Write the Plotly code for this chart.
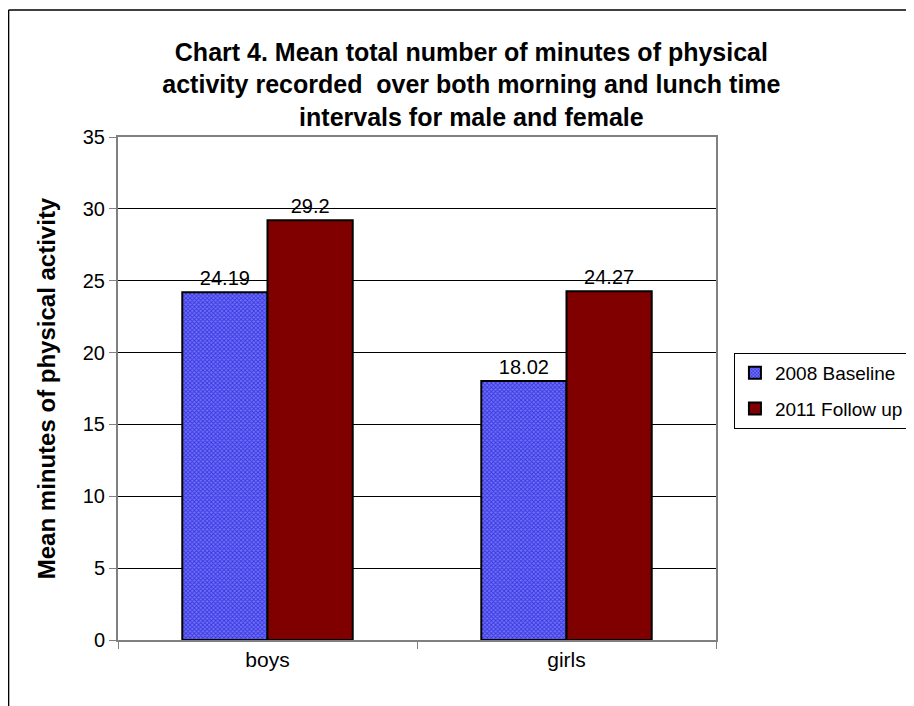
import plotly.graph_objects as go

# data
groups = ["boys", "girls"]
baseline_2008 = [24.19, 18.02]
followup_2011 = [29.2, 24.27]
series_names = ["2008 Baseline", "2011 Follow up"]

FONT = "Liberation Sans, Arial, sans-serif"

fig = go.Figure()

fig.add_trace(go.Bar(
    x=groups,
    y=baseline_2008,
    name=series_names[0],
    legendgroup="a",
    text=[f"{v:.2f}" for v in baseline_2008],
    textposition="outside",
    textfont=dict(size=20, color="black", family=FONT),
    cliponaxis=False,
    marker=dict(
        color="#6666ff",
        line=dict(color="black", width=2),
        pattern=dict(shape="x", fgcolor="#0000b0", bgcolor="#7070ff", size=3, solidity=0.5),
    ),
))

fig.add_trace(go.Bar(
    x=groups,
    y=followup_2011,
    name=series_names[1],
    legendgroup="b",
    text=[f"{v:g}" for v in followup_2011],
    textposition="outside",
    textfont=dict(size=20, color="black", family=FONT),
    cliponaxis=False,
    marker=dict(color="#800000", line=dict(color="black", width=2)),
))

# outer chart frame (only top and left edges show)
fig.add_shape(type="line", xref="paper", yref="paper",
              x0=-0.183, x1=1.4, y0=1.2525, y1=1.2525,
              line=dict(color="black", width=1.5))
fig.add_shape(type="line", xref="paper", yref="paper",
              x0=-0.183, x1=-0.183, y0=1.2525, y1=-0.2,
              line=dict(color="black", width=1.5))

# page body has an 8px margin, margins are shifted to compensate
fig.update_layout(
    width=914,
    height=706,
    margin=dict(l=110, r=206, t=129, b=74),
    paper_bgcolor="white",
    plot_bgcolor="white",
    font=dict(family=FONT, color="black", size=20),
    barmode="group",
    bargap=0.43,
    bargroupgap=0,
    title=dict(
        text="Chart 4. Mean total number of minutes of physical<br>"
             "activity recorded  over both morning and lunch time<br>"
             "intervals for male and female",
        x=0.507, xanchor="center",
        y=0.925, yanchor="middle",
        font=dict(size=25, family=FONT, color="black", weight="bold"),
    ),
    legend=dict(
        x=1.03, xanchor="left",
        y=0.5706, yanchor="top",
        bordercolor="black", borderwidth=1,
        font=dict(size=19, family=FONT),
        tracegroupgap=8,
    ),
    showlegend=True,
)

fig.update_xaxes(
    showline=True, linecolor="#808080", linewidth=2, mirror=True,
    ticks="outside", tickson="boundaries", ticklen=7, tickcolor="#808080",
    tickfont=dict(size=21),
    showgrid=False,
)
fig.update_yaxes(
    range=[0, 35], dtick=5,
    showline=True, linecolor="#808080", linewidth=2, mirror=True,
    ticks="outside", ticklen=7, tickcolor="#808080",
    tickfont=dict(size=20),
    showgrid=True, gridcolor="black", gridwidth=1,
    zeroline=False,
    title=dict(text="<b>Mean minutes of physical activity</b>", font=dict(size=24), standoff=20),
)

fig.write_html("out.html")
